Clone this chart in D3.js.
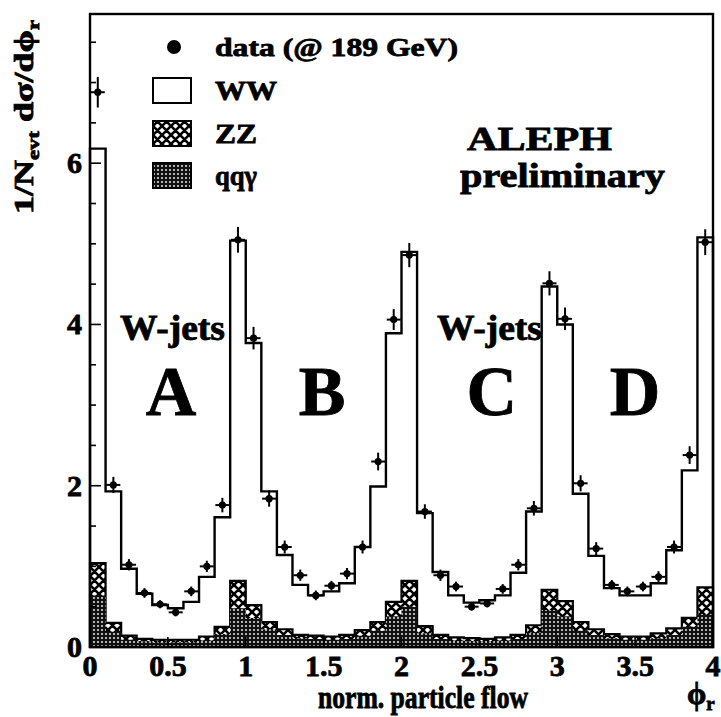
<!DOCTYPE html>
<html>
<head>
<meta charset="utf-8">
<script src="https://cdn.jsdelivr.net/npm/d3@7"></script>
<style>
  body { margin: 0; background: #fff; }
  svg { display: block; }
  text { font-family: "Liberation Serif", "Times New Roman", serif; font-weight: bold; fill: #000;
         stroke: #000; stroke-width: 0.8; paint-order: stroke; }
</style>
</head>
<body>
<svg id="chart" width="721" height="717"></svg>
<script>
// Normalised particle flow, 40 bins of width 0.1 over phi_r in [0, 4]
const binLow = d3.range(40).map(i => i / 10);
const binWidth = 0.1;

// Monte Carlo contributions per bin (stacked: qqγ, then ZZ, then WW)
const wwValues = [5.14,1.63,0.83,0.56,0.43,0.39,0.47,0.74,1.36,4.22,
                  3.25,1.62,0.92,0.62,0.50,0.56,0.64,1.03,1.68,3.33,
                  4.08,1.40,0.78,0.52,0.44,0.48,0.52,0.77,1.41,3.76,
                  3.43,1.59,0.91,0.57,0.51,0.51,0.62,0.97,1.83,4.34];
const zzValues = [0.40,0.11,0.05,0.03,0.03,0.03,0.03,0.05,0.09,0.34,
                  0.16,0.09,0.07,0.04,0.04,0.04,0.05,0.07,0.11,0.18,
                  0.32,0.09,0.05,0.04,0.04,0.03,0.04,0.05,0.09,0.25,
                  0.19,0.11,0.07,0.05,0.04,0.04,0.06,0.08,0.11,0.34];
const qqgValues = [0.64,0.19,0.09,0.07,0.06,0.06,0.06,0.08,0.16,0.48,
                   0.36,0.22,0.15,0.11,0.10,0.09,0.10,0.14,0.20,0.38,
                   0.50,0.17,0.10,0.08,0.07,0.07,0.08,0.10,0.18,0.46,
                   0.38,0.20,0.15,0.11,0.09,0.09,0.11,0.15,0.25,0.40];

// Data at 189 GeV with statistical errors
const dataValues = [6.88,2.01,1.02,0.67,0.53,0.43,0.69,1.00,1.76,5.05,
                    3.83,1.84,1.24,0.89,0.64,0.76,0.91,1.24,2.30,4.06,
                    4.86,1.68,0.89,0.75,0.50,0.54,0.72,1.02,1.72,4.51,
                    4.07,2.03,1.22,0.77,0.69,0.75,0.87,1.24,2.38,5.02];
const dataErrors = [0.19,0.10,0.07,0.06,0.05,0.05,0.06,0.07,0.09,0.16,
                    0.14,0.10,0.08,0.07,0.06,0.06,0.07,0.08,0.11,0.13,
                    0.15,0.09,0.07,0.06,0.05,0.05,0.06,0.07,0.09,0.15,
                    0.14,0.10,0.08,0.06,0.06,0.06,0.07,0.08,0.11,0.16];

const xTicks = [0, 0.5, 1, 1.5, 2, 2.5, 3, 3.5, 4];
const xTickLabels = ["0", "0.5", "1", "1.5", "2", "2.5", "3", "3.5", "4"];
const yTicks = [0, 2, 4, 6];
const yTickLabels = ["0", "2", "4", "6"];
const yMinorTicks = d3.range(0, 16).map(i => i / 2);

const regionLabels = ["A", "B", "C", "D"];
const regionCentres = [0.52, 1.49, 2.58, 3.5];

const svg = d3.select("#chart");
const frame = { left: 90, right: 713, top: 14, bottom: 647 };

const x = d3.scaleLinear().domain([0, 4]).range([frame.left, frame.right]);
const y = d3.scaleLinear().domain([0, 7.85]).range([frame.bottom, frame.top]);

// fill patterns
const defs = svg.append("defs");
const cross = defs.append("pattern").attr("id", "zzHatch")
  .attr("patternUnits", "userSpaceOnUse").attr("width", 9).attr("height", 9);
cross.append("rect").attr("width", 9).attr("height", 9).attr("fill", "#fff");
cross.append("path").attr("d", "M0,0L9,9M9,0L0,9M-1,8L1,10M8,-1L10,1M-1,1L1,-1M8,10L10,8")
  .attr("stroke", "#000").attr("stroke-width", 2.6);
const dots = defs.append("pattern").attr("id", "qqgDots")
  .attr("patternUnits", "userSpaceOnUse").attr("width", 4).attr("height", 4);
dots.append("rect").attr("width", 4).attr("height", 4).attr("fill", "#111");
dots.append("circle").attr("cx", 2).attr("cy", 2).attr("r", 0.9).attr("fill", "#fff");

// stacked histogram
const rows = binLow.map((b, i) => ({ x: b, qqg: qqgValues[i], zz: zzValues[i], ww: wwValues[i] }));
const series = d3.stack().keys(["qqg", "zz", "ww"])(rows);

const stepArea = d3.area()
  .curve(d3.curveStepAfter)
  .x(p => x(p.x))
  .y0(y(0))
  .y1(p => y(p.top));

const layerStyle = {
  ww:  { fill: "#fff", stroke: "#000", width: 2.4 },
  zz:  { fill: "url(#zzHatch)", stroke: "#000", width: 2.2 },
  qqg: { fill: "url(#qqgDots)", stroke: "none", width: 0 }
};

series.slice().reverse().forEach(layer => {
  const pts = layer.map(d => ({ x: d.data.x, top: d[1] }));
  pts.push({ x: pts[pts.length - 1].x + binWidth, top: pts[pts.length - 1].top });
  const st = layerStyle[layer.key];
  svg.append("path")
    .attr("d", stepArea(pts))
    .attr("fill", st.fill)
    .attr("stroke", st.stroke)
    .attr("stroke-width", st.width)
    .attr("stroke-linejoin", "miter");
});

// axis ticks
const ax = svg.append("g").attr("stroke", "#000").attr("stroke-width", 1.6);
yMinorTicks.forEach(v => {
  const major = yTicks.includes(v);
  ax.append("line").attr("x1", frame.left).attr("x2", frame.left + (major ? 11 : 6))
    .attr("y1", y(v)).attr("y2", y(v));
});
xTicks.forEach(v => {
  ax.append("line").attr("x1", x(v)).attr("x2", x(v))
    .attr("y1", frame.bottom).attr("y2", frame.bottom - 10);
});

// frame
svg.append("rect")
  .attr("x", frame.left).attr("y", frame.top)
  .attr("width", frame.right - frame.left).attr("height", frame.bottom - frame.top)
  .attr("fill", "none").attr("stroke", "#000").attr("stroke-width", 2.4);

// data points with error bars
const pts = svg.append("g");
binLow.forEach((b, i) => {
  const cx = x(b + binWidth / 2);
  const cy = y(dataValues[i]);
  pts.append("line").attr("x1", cx).attr("x2", cx)
    .attr("y1", y(dataValues[i] - dataErrors[i])).attr("y2", y(dataValues[i] + dataErrors[i]))
    .attr("stroke", "#000").attr("stroke-width", 2);
  pts.append("line").attr("x1", cx - 7).attr("x2", cx + 7)
    .attr("y1", cy).attr("y2", cy)
    .attr("stroke", "#000").attr("stroke-width", 2);
  pts.append("circle").attr("cx", cx).attr("cy", cy).attr("r", 3.6).attr("fill", "#000");
});

// tick labels
svg.append("g").selectAll("text").data(xTicks).join("text")
  .attr("x", d => x(d)).attr("y", 676)
  .attr("text-anchor", "middle").attr("font-size", 30)
  .text((d, i) => xTickLabels[i]);
svg.append("g").selectAll("text").data(yTicks).join("text")
  .attr("x", 82).attr("y", d => y(d) + 10)
  .attr("text-anchor", "end").attr("font-size", 30)
  .text((d, i) => yTickLabels[i]);

// axis titles
svg.append("text").attr("x", 318).attr("y", 708)
  .attr("font-size", 31).attr("textLength", 210).attr("lengthAdjust", "spacingAndGlyphs")
  .text("norm. particle flow");
const phi = svg.append("text").attr("x", 687).attr("y", 704).attr("font-size", 31);
phi.append("tspan").text("ϕ");
phi.append("tspan").attr("font-size", 19).attr("dy", 6).text("r");

const yTitle = svg.append("text")
  .attr("transform", "translate(33,214) rotate(-90)")
  .attr("font-size", 27).attr("textLength", 194).attr("lengthAdjust", "spacingAndGlyphs");
yTitle.append("tspan").text("1/N");
yTitle.append("tspan").attr("font-size", 17).attr("dy", 6).text("evt");
yTitle.append("tspan").attr("dy", -6).text(" dσ/dϕ");
yTitle.append("tspan").attr("font-size", 17).attr("dy", 6).text("r");

// legend
const legend = svg.append("g");
legend.append("circle").attr("cx", 174).attr("cy", 47).attr("r", 7).attr("fill", "#000");
legend.append("text").attr("x", 215).attr("y", 56).attr("font-size", 26)
  .attr("textLength", 243).attr("lengthAdjust", "spacingAndGlyphs").text("data (@ 189 GeV)");
const legendBoxes = [
  { top: 78, fill: "#fff", label: "WW", w: 62 },
  { top: 121, fill: "url(#zzHatch)", label: "ZZ", w: 42 },
  { top: 163, fill: "url(#qqgDots)", label: "qqγ", w: 42 }
];
legendBoxes.forEach(b => {
  legend.append("rect").attr("x", 153).attr("y", b.top).attr("width", 38).attr("height", 25)
    .attr("fill", b.fill).attr("stroke", "#000").attr("stroke-width", 2);
  legend.append("text").attr("x", 215).attr("y", b.top + 22).attr("font-size", 28)
    .attr("textLength", b.w).attr("lengthAdjust", "spacingAndGlyphs").text(b.label);
});

// annotations
svg.append("text").attr("x", 467).attr("y", 150).attr("font-size", 33)
  .attr("textLength", 145).attr("lengthAdjust", "spacingAndGlyphs").text("ALEPH");
svg.append("text").attr("x", 460).attr("y", 187).attr("font-size", 34)
  .attr("textLength", 205).attr("lengthAdjust", "spacingAndGlyphs").text("preliminary");
[120, 437].forEach(px => {
  svg.append("text").attr("x", px).attr("y", 340).attr("font-size", 35)
    .attr("textLength", 105).attr("lengthAdjust", "spacingAndGlyphs").text("W-jets");
});
svg.append("g").selectAll("text").data(regionLabels).join("text")
  .attr("x", (d, i) => x(regionCentres[i])).attr("y", 415)
  .attr("text-anchor", "middle").attr("font-size", 70)
  .text(d => d);
</script>
</body>
</html>
